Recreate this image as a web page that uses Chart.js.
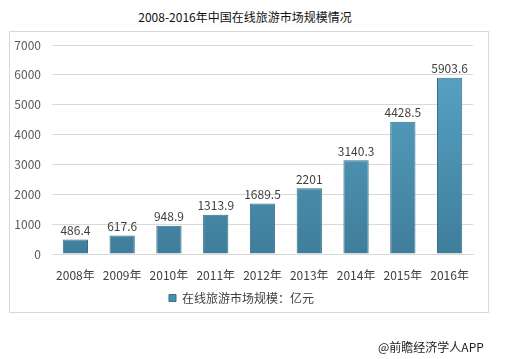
<!DOCTYPE html>
<html><head><meta charset="utf-8">
<script src="https://cdn.jsdelivr.net/npm/chart.js@4/dist/chart.umd.min.js"></script>
<style>
html,body{margin:0;padding:0;background:#fff;}
#wrap{position:relative;width:508px;height:359px;overflow:hidden;font-family:"Noto Sans CJK SC",sans-serif;}
#frame{position:absolute;left:9px;top:31px;width:480px;height:282px;border:1px solid #d9d9d9;box-sizing:border-box;}
#title{position:absolute;left:0;top:8px;width:490px;text-align:center;font-size:12px;font-weight:400;color:#111;}
#src{position:absolute;left:378px;top:338px;font-size:12px;color:#222;}
canvas{position:absolute;left:0;top:0;}
</style></head><body>
<div id="wrap">
<div id="frame"></div>
<div id="title">2008-2016年中国在线旅游市场规模情况</div>
<canvas id="c" width="508" height="359"></canvas>
<div id="src">@前瞻经济学人APP</div>
</div>
<script>
const categories = ["2008年","2009年","2010年","2011年","2012年","2013年","2014年","2015年","2016年"];
const marketSize = [486.4, 617.6, 948.9, 1313.9, 1689.5, 2201, 3140.3, 4428.5, 5903.6];
const seriesName = "在线旅游市场规模：亿元";
const yTicks = [0,1000,2000,3000,4000,5000,6000,7000];

const FONT = '"Noto Sans CJK SC", sans-serif';
const ctx = document.getElementById('c').getContext('2d');

const valueLabels = {
  id:'valueLabels',
  afterDatasetsDraw(chart){
    const c = chart.ctx;
    const meta = chart.getDatasetMeta(0);
    c.save();
    c.font = '12px ' + FONT;
    c.fillStyle = '#404040';
    c.textAlign = 'center';
    c.textBaseline = 'bottom';
    meta.data.forEach((bar,i)=>{
      c.fillText(String(marketSize[i]), bar.x, bar.y - 3);
    });
    c.restore();
  }
};

function barFill(context){
  const chart = context.chart;
  const a = chart.chartArea;
  if(!a) return '#4a8fae';
  const g = chart.ctx.createLinearGradient(0, a.top, 0, a.bottom);
  g.addColorStop(0, '#5aa6c8');
  g.addColorStop(1, '#3f7e9b');
  return g;
}

new Chart(ctx, {
  type:'bar',
  data:{
    labels:categories,
    datasets:[{
      label:seriesName,
      data:marketSize,
      backgroundColor:barFill,
      borderColor:'#3a6f88',
      borderWidth:1,
      barPercentage:0.54,
      categoryPercentage:1
    }]
  },
  options:{
    responsive:false,
    animation:false,
    devicePixelRatio:1,
    layout:{padding:{left:10,right:35,top:45,bottom:45}},
    plugins:{
      title:{display:false},
      tooltip:{enabled:false},
      legend:{
        position:'bottom',
        labels:{
          boxWidth:7,boxHeight:7,
          font:{size:12,family:FONT},
          color:'#404040',
          padding:12,
          generateLabels(chart){
            return [{text:seriesName,fillStyle:'#4a8fae',strokeStyle:'#3a6f88',lineWidth:1,hidden:false,datasetIndex:0,fontColor:'#404040'}];
          }
        }
      }
    },
    scales:{
      x:{
        grid:{display:false},
        border:{display:true,color:'#d9d9d9'},
        ticks:{font:{size:12,family:FONT},color:'#404040',padding:6},
        afterFit(s){ s.height = 26; }
      },
      y:{
        min:0,max:7000,
        afterBuildTicks(s){ s.ticks = yTicks.map(v=>({value:v})); },
        grid:{color:'#d9d9d9',drawTicks:false},
        border:{display:false},
        ticks:{font:{size:12,family:FONT},color:'#595959',padding:11,callback:(v)=>String(v)},
        afterFit(s){ s.width = 42; }
      }
    }
  },
  plugins:[valueLabels]
});
</script>
</body></html>
